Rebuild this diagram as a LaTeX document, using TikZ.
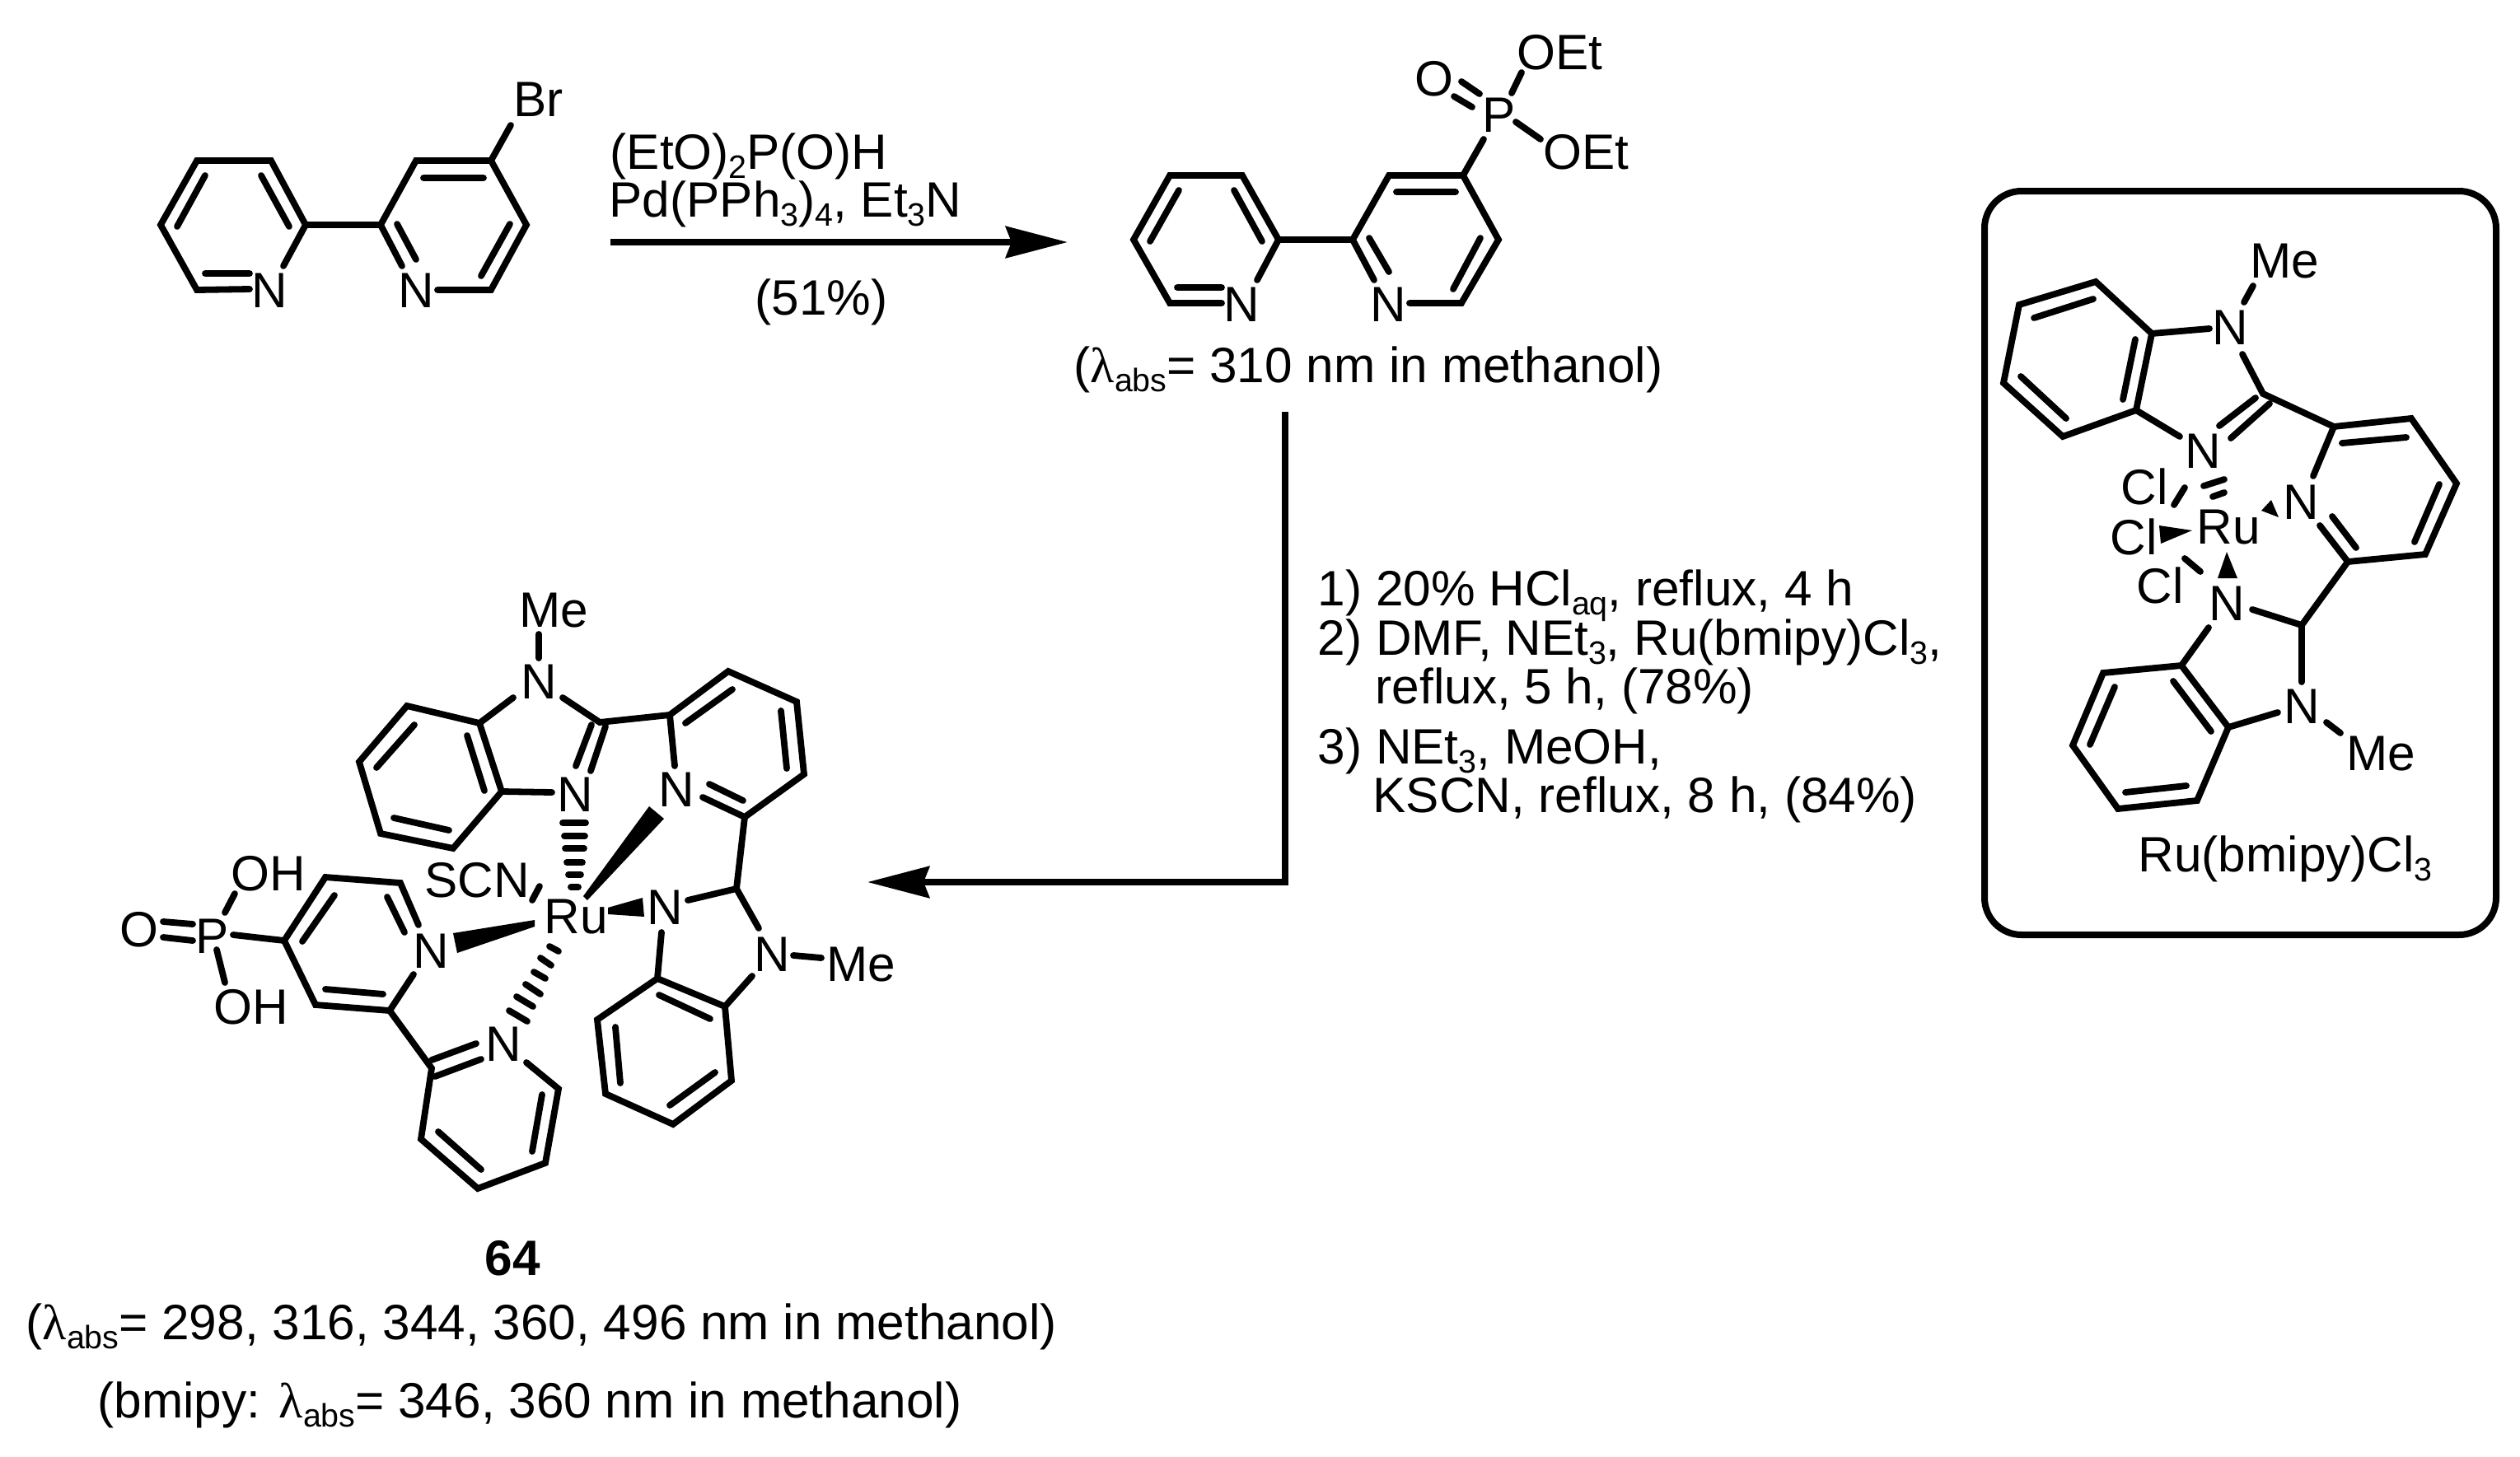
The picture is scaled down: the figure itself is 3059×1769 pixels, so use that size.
\documentclass[tikz,border=0pt]{standalone}
\usepackage{fontspec}
\setmainfont{Liberation Sans}
\newfontfamily\symf{Liberation Serif}
\usetikzlibrary{arrows.meta}
\newcommand\lowtxt[1]{\smash{\raisebox{-3.4pt}{\fontsize{11.2}{12}\selectfont #1}}}
\newcommand\lam{{\symf λ}}
\tikzset{
  bond/.style={line width=0.078cm,line cap=round,line join=miter,miter limit=4},
  hard/.style={fill=black,draw=none},
  hashb/.style={line width=0.078cm,line cap=round},
  txt/.style={anchor=base west,inner sep=0pt,font=\fontsize{17.15}{19}\selectfont},
  atom/.style={inner sep=0pt,font=\fontsize{17.15}{19}\selectfont},
  rxn/.style={line width=0.08cm,line join=miter,-{Stealth[length=0.75cm,width=0.38cm,inset=0.07cm]}}
}
\begin{document}
\begin{tikzpicture}[x=0.01cm,y=-0.01cm]
\useasboundingbox (0,0) rectangle (3059,1769);

% ---------- 4-bromo-bipyridine
\node[atom] (n1a) at (327,353) {N};
\node[atom] (n1b) at (505,353) {N};
\node[txt] (br1) at (623,141) {Br};
\draw[bond] (303,351)--(239,352)--(195,273)--(239,195)--(329,195)--(371,273)--(344,323);
\draw[bond] (371,273)--(462,273);
\draw[bond] (488,323)--(462,273)--(505,195)--(596,195)--(639,273)--(596,352)--(531,352);
\draw[bond] (596,195)--(620,152);
\draw[bond] (249,213)--(215,275) (317,213)--(351,275) (249,332)--(303,332);
\draw[bond] (514,216)--(587,216) (482,272)--(505,315) (619,272)--(584,335);

% ---------- top reaction
\node[txt] (r1) at (740,205) {(EtO)\lowtxt{2}P(O)H};
\node[txt] (r2) at (739,263) {Pd(PPh\lowtxt{3})\lowtxt{4}, Et\lowtxt{3}N};
\node[txt] (r3) at (916,382) {(51\%)};
\coordinate (a1s) at (741,294);
\coordinate (a1e) at (1296,294);
\draw[rxn] (a1s)--(a1e);

% ---------- phosphonate bipyridine
\node[atom] (n2a) at (1507,370) {N};
\node[atom] (n2b) at (1685,370) {N};
\node[atom] (p2) at (1820,140) {P};
\node[atom] (o2) at (1741,96) {O};
\node[txt] (oet1) at (1841,84) {OEt};
\node[txt] (oet2) at (1873,205) {OEt};
\draw[bond] (1483,368)--(1420,368)--(1376,291)--(1420,213)--(1508,213)--(1552,291)--(1526,340);
\draw[bond] (1552,291)--(1642,291);
\draw[bond] (1668,340)--(1642,291)--(1686,213)--(1776,213)--(1819,291)--(1774,368)--(1711,368);
\draw[bond] (1431,231)--(1396,293) (1498,231)--(1532,293) (1429,349)--(1483,349);
\draw[bond] (1695,233)--(1767,233) (1662,289)--(1686,330) (1797,289)--(1764,351);
\draw[bond] (1776,213)--(1801,169);
\draw[bond] (1774,99)--(1796,114) (1765,117)--(1787,130);
\draw[bond] (1835,113)--(1847,88);
\draw[bond] (1840,148)--(1870,169);
\node[txt] (lam1) at (1303,464) {(\lam\lowtxt{abs}= 310 nm in methanol)};

% ---------- second reaction
\coordinate (a2s) at (1560,500);
\coordinate (a2c) at (1560,1071);
\coordinate (a2e) at (1053,1071);
\draw[rxn] (a2s)--(a2c)--(a2e);
\node[txt] (s1) at (1599,735) {1) 20\% HCl\lowtxt{aq}, reflux, 4 h};
\node[txt] (s2) at (1599,795) {2) DMF, NEt\lowtxt{3}, Ru(bmipy)Cl\lowtxt{3},};
\node[txt] (s2b) at (1669,854) {reflux, 5 h, (78\%)};
\node[txt] (s3) at (1599,927) {3) NEt\lowtxt{3}, MeOH,};
\node[txt] (s3b) at (1666,986) {KSCN, reflux, 8 h, (84\%)};

% ---------- framed Ru(bmipy)Cl3
\draw[line width=0.08cm,rounded corners=0.45cm] (2409,232) rectangle (3030,1135);
\node[atom] (bn1) at (2707,398) {N};
\node[txt] (bme1) at (2731,337) {Me};
\node[atom] (bn2) at (2674,548) {N};
\node[atom] (bn3) at (2793,610) {N};
\node[txt] (bru) at (2666,660) {Ru};
\node[txt] (bcl1) at (2574,612) {Cl};
\node[txt] (bcl2) at (2561,673) {Cl};
\node[txt] (bcl3) at (2593,732) {Cl};
\node[atom] (bn4) at (2703,733) {N};
\node[atom] (bn5) at (2794,858) {N};
\node[txt] (bme2) at (2848,935) {Me};
\node[txt] (blab) at (2595,1058) {Ru(bmipy)Cl\lowtxt{3}};
\draw[bond] (2682,399)--(2612,405)--(2544,342)--(2451,370)--(2432,465)--(2504,530)--(2593,498)--(2612,405);
\draw[bond] (2593,498)--(2646,530);
\draw[bond] (2541,363)--(2469,386) (2592,412)--(2577,485) (2453,457)--(2508,508);
\draw[bond] (2735,347)--(2724,367);
\draw[bond] (2722,430)--(2747,478)--(2833,518);
\draw[bond] (2738,483)--(2694,517) (2755,490)--(2708,532);
\draw[bond] (2808,578)--(2833,518)--(2927,508)--(2982,587)--(2944,673)--(2850,682)--(2816,638);
\draw[bond] (2843,538)--(2921,531) (2961,588)--(2931,658) (2831,627)--(2860,665);
\draw[bond] (2850,682)--(2794,759)--(2734,740);
\draw[bond] (2794,759)--(2794,828);
\draw[bond] (2681,762)--(2648,808)--(2553,817)--(2516,905)--(2571,982)--(2667,972)--(2705,883)--(2648,808);
\draw[bond] (2705,883)--(2765,865);
\draw[bond] (2638,827)--(2684,888) (2567,834)--(2537,904) (2580,962)--(2654,954);
\draw[bond] (2824,877)--(2841,890);
\draw[hashb] (2675,590)--(2700,582) (2686,603)--(2700,598);
\draw[bond] (2652,592)--(2639,613);
\draw[bond] (2652,678)--(2671,694);
\fill[hard] (2621,638)--(2661,644)--(2623,660)--cycle;
\fill[hard] (2745,620)--(2757,607)--(2766,628)--cycle;
\fill[hard] (2703,670)--(2692,702)--(2716,702)--cycle;

% ---------- complex 64
\node[atom] (cn1) at (654,828) {N};
\node[txt] (cme1) at (630,761) {Me};
\node[atom] (cn2) at (698,965) {N};
\node[atom] (cn3) at (821,959) {N};
\node[txt] (cru) at (660,1133) {Ru};
\node[txt] (cscn) at (515,1089) {SCN};
\node[atom] (cn4) at (807,1102) {N};
\node[atom] (cn5) at (937,1159) {N};
\node[txt] (cme2) at (1003,1191) {Me};
\node[atom] (cn6) at (523,1155) {N};
\node[atom] (cn7) at (611,1268) {N};
\node[atom] (cp) at (258,1137) {P};
\node[atom] (co) at (169,1129) {O};
\node[txt] (coh1) at (280,1081) {OH};
\node[txt] (coh2) at (259,1243) {OH};
% upper benzimidazole
\draw[bond] (654,770)--(654,799);
\draw[bond] (623,847)--(582,878)--(494,857)--(436,925)--(462,1012)--(550,1030)--(609,961)--(582,878);
\draw[bond] (609,961)--(670,962);
\draw[bond] (503,880)--(457,932) (567,893)--(588,960) (478,993)--(545,1008);
\draw[bond] (683,847)--(728,877)--(813,868);
\draw[bond] (718,880)--(699,930) (735,882)--(717,936);
% upper pyridine
\draw[bond] (819,930)--(813,868)--(884,815)--(967,852)--(976,940)--(904,992)--(853,968);
\draw[bond] (832,878)--(889,837) (948,863)--(955,933) (861,952)--(902,972);
\draw[bond] (904,992)--(894,1079)--(835,1093);
\draw[bond] (894,1079)--(921,1127);
% lower benzimidazole
\draw[bond] (803,1132)--(798,1188)--(725,1238)--(735,1328)--(817,1365)--(888,1312)--(880,1222)--(798,1188);
\draw[bond] (880,1222)--(913,1185);
\draw[bond] (800,1208)--(862,1237) (747,1247)--(753,1315) (813,1342)--(868,1302);
\draw[bond] (963,1160)--(997,1163);
% around Ru
\draw[hashb] (683,999)--(711,999) (685,1015)--(710,1015) (686,1030)--(709,1030) (688,1047)--(707,1047) (690,1062)--(705,1062) (693,1077)--(702,1077);
\fill[hard] (708,1088)--(713,1093)--(806,994)--(788,979)--cycle;
\draw[bond] (655,1076)--(646,1093);
\fill[hard] (649,1117)--(649,1125)--(555,1157)--(550,1133)--cycle;
\fill[hard] (738,1102)--(738,1110)--(782,1113)--(780,1090)--cycle;
\draw[hashb] (667,1149)--(678,1155) (656,1163)--(669,1172) (648,1180)--(662,1188) (638,1195)--(656,1207) (627,1210)--(647,1222) (618,1227)--(640,1240);
% phosphonic bipyridine
\draw[bond] (508,1123)--(486,1072)--(395,1065)--(345,1142)--(383,1220)--(473,1227)--(502,1183);
\draw[bond] (470,1089)--(491,1132) (406,1087)--(367,1143) (395,1201)--(465,1207);
\draw[bond] (283,1135)--(345,1142);
\draw[bond] (198,1119)--(234,1122) (198,1138)--(234,1142);
\draw[bond] (285,1085)--(273,1108);
\draw[bond] (263,1153)--(273,1193);
\draw[bond] (473,1227)--(524,1297)--(511,1383)--(580,1443)--(662,1412)--(678,1322)--(639,1290);
\draw[bond] (524,1287)--(578,1267) (528,1307)--(584,1286);
\draw[bond] (658,1329)--(646,1398) (532,1374)--(584,1420);

\node[txt,font=\fontsize{17.15}{19}\selectfont\bfseries] (c64) at (588,1548) {64};
\node[txt] (lam2) at (31,1626) {(\lam\lowtxt{abs}= 298, 316, 344, 360, 496 nm in methanol)};
\node[txt] (lam3) at (118,1721) {(bmipy: \lam\lowtxt{abs}= 346, 360 nm in methanol)};
\end{tikzpicture}
\end{document}
